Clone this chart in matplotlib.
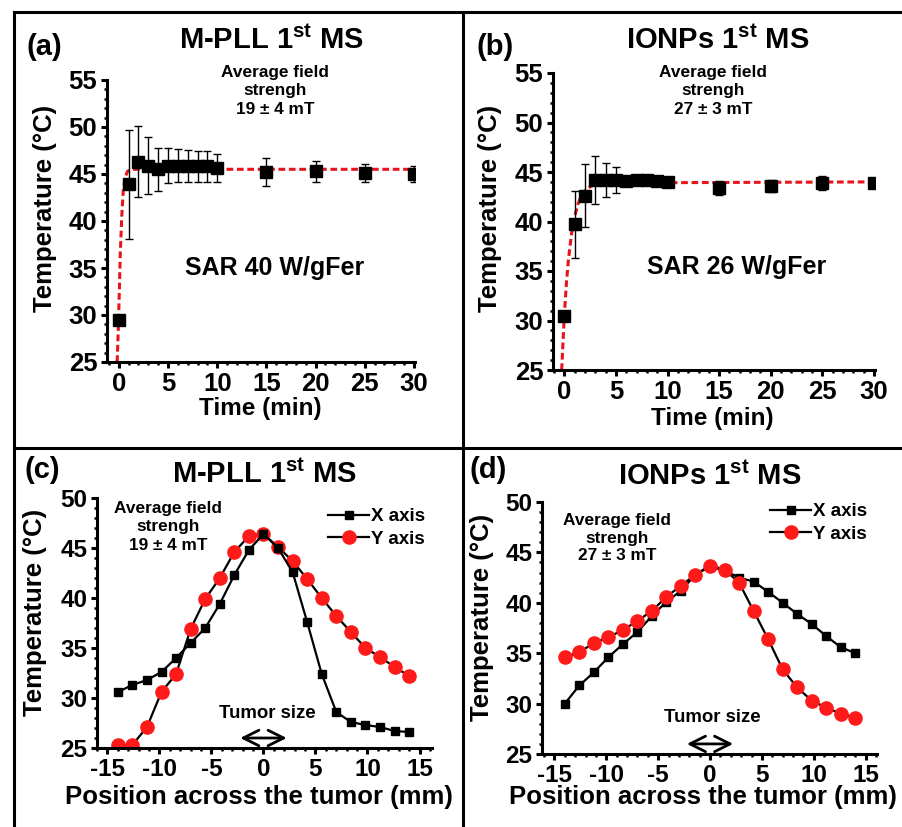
import numpy as np
import matplotlib
matplotlib.use("Agg")
from matplotlib import pyplot as plt
from matplotlib.lines import Line2D
from matplotlib.ticker import MultipleLocator

W, H = 902, 827

# --- (a) M-PLL heating curve ---
time_a = [0, 1, 2, 3, 4, 5, 6, 7, 8, 9, 10, 15, 20, 25, 30]
temp_a = [29.5, 43.9, 46.3, 45.9, 45.5, 45.9, 45.9, 45.9, 45.8, 45.8, 45.6, 45.2, 45.3, 45.1, 45.0]
err_a = [0.0, 5.8, 3.8, 3.0, 2.3, 1.9, 1.8, 1.7, 1.6, 1.6, 1.5, 1.5, 1.1, 1.0, 0.9]
fit_t_a = [-0.17, -0.05, 0.05, 0.15, 0.3, 0.45, 0.65, 0.9, 1.3, 30]
fit_T_a = [25.0, 28.5, 32.5, 36.5, 40.5, 43.2, 44.7, 45.3, 45.5, 45.5]

# --- (b) IONPs heating curve ---
time_b = [0, 1, 2, 3, 4, 5, 6, 7, 8, 9, 10, 15, 20, 25, 30]
temp_b = [30.5, 39.7, 42.6, 44.2, 44.2, 44.2, 44.1, 44.2, 44.2, 44.1, 44.0, 43.4, 43.6, 43.9, 43.9]
err_b = [0.0, 3.35, 3.2, 2.4, 1.75, 1.3, 0.5, 0.5, 0.4, 0.3, 0.2, 0.7, 0.6, 0.7, 0.3]
fit_t_b = [-0.26, 0, 0.2, 0.4, 0.7, 1.0, 1.3, 1.6, 2.0, 2.5, 3.0, 4.0, 30]
fit_T_b = [25.0, 30.6, 33.8, 36.2, 38.8, 40.5, 41.7, 42.5, 43.1, 43.5, 43.8, 43.9, 44.0]

# --- (c)/(d) profiles across the tumor ---
pos = [-14, -12.6, -11.2, -9.8, -8.4, -7, -5.6, -4.2, -2.8, -1.4, 0,
       1.4, 2.8, 4.2, 5.6, 7, 8.4, 9.8, 11.2, 12.6, 14]
x_c = [30.6, 31.3, 31.8, 32.6, 34.0, 35.5, 37.0, 39.4, 42.3, 44.8, 46.4,
       45.0, 42.6, 37.6, 32.4, 28.6, 27.6, 27.3, 27.1, 26.7, 26.6]
y_c = [25.3, 25.3, 27.1, 30.6, 32.4, 36.9, 39.9, 42.0, 44.6, 46.2, 46.4,
       45.1, 43.7, 41.9, 40.0, 38.2, 36.6, 35.0, 34.1, 33.1, 32.2]
x_d = [30.0, 31.8, 33.1, 34.6, 35.9, 37.1, 38.7, 40.1, 41.2, 42.8, 43.6,
       43.2, 42.5, 42.1, 41.1, 40.0, 38.9, 37.9, 36.7, 35.6, 35.0]
y_d = [34.6, 35.1, 36.0, 36.6, 37.3, 38.2, 39.2, 40.6, 41.7, 42.8, 43.7,
       43.3, 42.0, 39.2, 36.4, 33.4, 31.6, 30.3, 29.6, 29.0, 28.6]
tumor_half = 2.5

plt.rcParams['font.family'] = ['Liberation Sans', 'DejaVu Sans']
plt.rcParams['font.weight'] = 'bold'
plt.rcParams['axes.unicode_minus'] = False
plt.rcParams['mathtext.fontset'] = 'custom'
plt.rcParams['mathtext.rm'] = 'Liberation Sans:bold'
plt.rcParams['mathtext.bf'] = 'Liberation Sans:bold'

fig = plt.figure(figsize=(W / 100, H / 100), dpi=100)


def px_axes(left, top, right, bottom):
    return fig.add_axes([left / W, 1 - bottom / H, (right - left) / W, (bottom - top) / H])


def ftext(x, y, s, **kw):
    kw.setdefault('ha', 'center')
    kw.setdefault('va', 'center')
    kw.setdefault('fontweight', 'bold')
    return fig.text(x / W, 1 - y / H, s, **kw)


def fline(xs, ys, **kw):
    fig.add_artist(Line2D([x / W for x in xs], [1 - y / H for y in ys],
                          color='black', lw=2.2, **kw))


def style(ax, ymax, fs):
    for s in ['top', 'right']:
        ax.spines[s].set_visible(False)
    for s in ['left', 'bottom']:
        ax.spines[s].set_linewidth(2.2)
    ax.set_ylim(25, ymax)
    ax.yaxis.set_major_locator(MultipleLocator(5))
    ax.yaxis.set_minor_locator(MultipleLocator(1))
    ax.xaxis.set_major_locator(MultipleLocator(5))
    ax.xaxis.set_minor_locator(MultipleLocator(1))
    ax.tick_params(which='major', direction='out', length=4.5, width=2.2,
                   labelsize=fs, pad=2.5)
    ax.tick_params(which='minor', direction='out', length=2.5, width=1.8)
    for lab in ax.get_xticklabels() + ax.get_yticklabels():
        lab.set_fontweight('bold')
    ax.patch.set_alpha(0)


# frame lines
fline([14, 902], [12, 12])
fline([14, 14], [12, 827])
fline([463, 463], [12, 827])
fline([14, 902], [448, 448])

# (a)
ax = px_axes(107, 80, 415, 362)
ax.plot(fit_t_a, fit_T_a, color='#e8141b', lw=2.2, ls=(0, (2.2, 1.2)), zorder=2)
ax.errorbar(time_a, temp_a, yerr=err_a, fmt='s', color='black', ms=8,
            ecolor='black', elinewidth=1, capsize=3, capthick=1, zorder=3)
ax.set_xlim(-1.2, 30.1)
ax.set_xticks([0, 5, 10, 15, 20, 25, 30])
style(ax, 55, 18.5)

# (b)
bx = px_axes(553, 73, 875, 370)
bx.plot(fit_t_b, fit_T_b, color='#e8141b', lw=2.2, ls=(0, (2.2, 1.2)), zorder=2)
bx.errorbar(time_b, temp_b, yerr=err_b, fmt='s', color='black', ms=8,
            ecolor='black', elinewidth=1, capsize=3, capthick=1, zorder=3)
bx.set_xlim(-1.1, 30.1)
bx.set_xticks([0, 5, 10, 15, 20, 25, 30])
style(bx, 55, 18.5)

# (c)
cx = px_axes(97, 498, 432, 748)
cx.plot(pos, x_c, color='black', lw=1.6, marker='s', ms=6, label='X axis', zorder=3)
cx.plot(pos, y_c, color='black', lw=1.6, marker='o', ms=9.5, mfc='#ff1a1a',
        mec='#ff1a1a', label='Y axis', zorder=2)
cx.set_xlim(-16, 16.2)
cx.set_xticks([-15, -10, -5, 0, 5, 10, 15])
style(cx, 50, 17.5)
cx.annotate('', xy=(-tumor_half, 26.0), xytext=(tumor_half, 26.0),
            arrowprops=dict(arrowstyle='<->', color='black', lw=2, mutation_scale=28))
cx.legend(loc='upper left', bbox_to_anchor=(328 / W, 1 - 508 / H),
          bbox_transform=fig.transFigure, frameon=False, fontsize=13.5,
          handlelength=2.2, handletextpad=0.1, labelspacing=0.3,
          borderpad=0, borderaxespad=0)

# (d)
dx = px_axes(542, 502, 877, 754)
dx.plot(pos, x_d, color='black', lw=1.6, marker='s', ms=6, label='X axis', zorder=2)
dx.plot(pos, y_d, color='black', lw=1.6, marker='o', ms=9.5, mfc='#ff1a1a',
        mec='#ff1a1a', label='Y axis', zorder=3)
dx.set_xlim(-16.2, 16.1)
dx.set_xticks([-15, -10, -5, 0, 5, 10, 15])
style(dx, 50, 17.5)
dx.annotate('', xy=(-tumor_half, 26.0), xytext=(tumor_half, 26.0),
            arrowprops=dict(arrowstyle='<->', color='black', lw=2, mutation_scale=28))
dx.legend(loc='upper left', bbox_to_anchor=(770 / W, 1 - 503 / H),
          bbox_transform=fig.transFigure, frameon=False, fontsize=13.5,
          handlelength=2.2, handletextpad=0.1, labelspacing=0.3,
          borderpad=0, borderaxespad=0)

# panel letters and titles
ftext(44, 47, '(a)', fontsize=21)
ftext(495, 47, '(b)', fontsize=21)
ftext(42, 470, '(c)', fontsize=21)
ftext(488, 470, '(d)', fontsize=21)
ftext(272, 40, r'M-PLL 1$^{\mathrm{st}}$ MS', fontsize=21)
ftext(718, 40, r'IONPs 1$^{\mathrm{st}}$ MS', fontsize=21)
ftext(265, 474, r'M-PLL 1$^{\mathrm{st}}$ MS', fontsize=21)
ftext(710, 476, r'IONPs 1$^{\mathrm{st}}$ MS', fontsize=21)

# axis labels
ftext(45, 208, 'Temperature (°C)', fontsize=18.5, rotation=90)
ftext(490, 208, 'Temperature (°C)', fontsize=18.5, rotation=90)
ftext(35, 612, 'Temperature (°C)', fontsize=18.5, rotation=90)
ftext(482, 617, 'Temperature (°C)', fontsize=18.5, rotation=90)
ftext(260, 408, 'Time (min)', fontsize=17.5)
ftext(712, 418, 'Time (min)', fontsize=17.5)
ftext(259, 797, 'Position across the tumor (mm)', fontsize=18.5)
ftext(703, 797, 'Position across the tumor (mm)', fontsize=18.5)

# annotations
ftext(275, 91, 'Average field\nstrengh\n19 ± 4 mT', fontsize=12.4, linespacing=1.25)
ftext(713, 91, 'Average field\nstrengh\n27 ± 3 mT', fontsize=12.4, linespacing=1.25)
ftext(168, 527, 'Average field\nstrengh\n19 ± 4 mT', fontsize=12.4, linespacing=1.25)
ftext(617, 538, 'Average field\nstrengh\n27 ± 3 mT', fontsize=12.4, linespacing=1.25)
ftext(275, 268, 'SAR 40 W/gFer', fontsize=18)
ftext(737, 267, 'SAR 26 W/gFer', fontsize=18)
ftext(267, 713, 'Tumor size', fontsize=13.4)
ftext(712, 718, 'Tumor size', fontsize=13.4)

fig.savefig('out.png', dpi=100)
